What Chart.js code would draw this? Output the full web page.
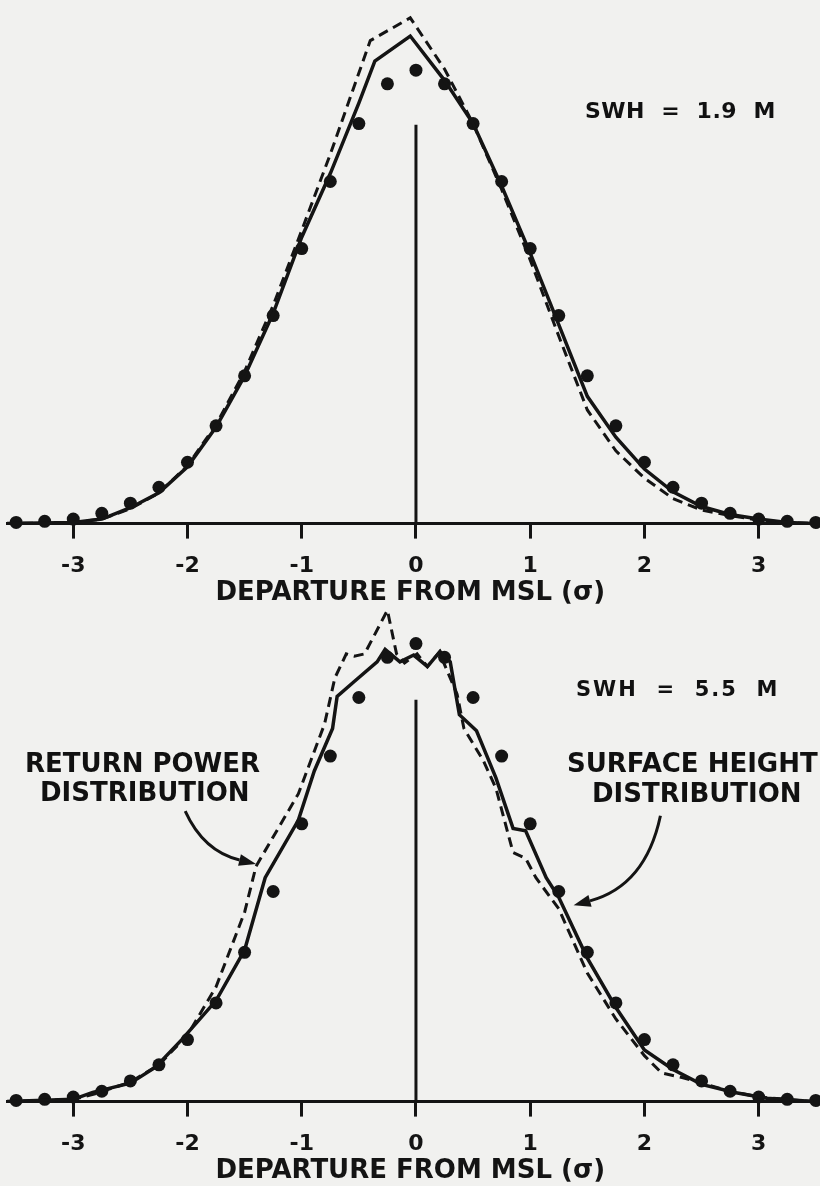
<!DOCTYPE html>
<html lang="en">
<head>
<meta charset="UTF-8">
<title>Return power vs surface height distribution</title>
<script src="https://cdn.jsdelivr.net/npm/chart.js@4.4.0/dist/chart.umd.min.js"></script>
<style>
    body {
        margin: 0;
        background: #f1f1ef;
        width: 820px;
        height: 1186px;
        position: relative;
        overflow: hidden;
        font-family: 'DejaVu Sans', sans-serif;
        font-weight: bold;
        color: #111;
    }
    canvas {
        position: absolute;
        left: 0;
    }
    #top { top: 0; }
    #bottom { top: 590px; }
    .note {
        position: absolute;
        line-height: 1;
        white-space: pre;
    }
</style>
</head>
<body>
<canvas id="top" width="820" height="608"></canvas>
<canvas id="bottom" width="820" height="596"></canvas>

<div class="note" style="left:585px; top:100px; font-size:22px; letter-spacing:0.5px;">SWH  =  1.9  M</div>
<div class="note" style="left:576px; top:679px; font-size:21px; letter-spacing:2px;">SWH  =  5.5  M</div>
<div class="note" style="left:25px; top:750px; font-size:26px;">RETURN POWER</div>
<div class="note" style="left:40px; top:779px; font-size:26px;">DISTRIBUTION</div>
<div class="note" style="left:567px; top:750px; font-size:26px;">SURFACE HEIGHT</div>
<div class="note" style="left:592px; top:780px; font-size:26px;">DISTRIBUTION</div>

<script>
// x positions (sigma) of the plotted points
const xDots = [-3.5, -3.25, -3, -2.75, -2.5, -2.25, -2, -1.75, -1.5, -1.25, -1, -0.75, -0.5, -0.25,
    0, 0.25, 0.5, 0.75, 1, 1.25, 1.5, 1.75, 2, 2.25, 2.5, 2.75, 3, 3.25, 3.5];
const dotsTop = [0.001, 0.002, 0.004, 0.009, 0.018, 0.032, 0.054, 0.086, 0.130, 0.183, 0.242, 0.301, 0.352, 0.387,
    0.399, 0.387, 0.352, 0.301, 0.242, 0.183, 0.130, 0.086, 0.054, 0.032, 0.018, 0.009, 0.004, 0.002, 0.001];
const dotsBottom = [0.001, 0.002, 0.004, 0.009, 0.018, 0.032, 0.054, 0.086, 0.130, 0.183, 0.242, 0.301, 0.352, 0.387,
    0.399, 0.387, 0.352, 0.301, 0.242, 0.183, 0.130, 0.086, 0.054, 0.032, 0.018, 0.009, 0.004, 0.002, 0.001];

// SWH = 1.9 m
const solidTopX = [-3.58, -3, -2.75, -2.5, -2.25, -2, -1.75, -1.5, -1.25, -1, -0.75, -0.5, -0.36, -0.05,
    0.25, 0.5, 0.75, 1, 1.25, 1.5, 1.75, 2, 2.25, 2.5, 2.75, 3, 3.25, 3.48];
const solidTopY = [0, 0.001, 0.004, 0.014, 0.027, 0.050, 0.085, 0.130, 0.185, 0.252, 0.308, 0.370, 0.407, 0.429,
    0.390, 0.352, 0.297, 0.238, 0.175, 0.112, 0.076, 0.048, 0.028, 0.015, 0.008, 0.004, 0.001, 0];
const dashTopX = [-3.58, -3, -2.75, -2.5, -2.25, -2, -1.75, -1.5, -1.25, -1, -0.75, -0.4, -0.05,
    0.25, 0.5, 0.75, 1, 1.25, 1.5, 1.75, 2, 2.25, 2.5, 2.75, 3, 3.25, 3.48];
const dashTopY = [0, 0.001, 0.004, 0.013, 0.027, 0.051, 0.087, 0.134, 0.192, 0.258, 0.325, 0.425, 0.445,
    0.400, 0.352, 0.294, 0.232, 0.165, 0.100, 0.064, 0.040, 0.022, 0.012, 0.007, 0.003, 0.001, 0];

// SWH = 5.5 m
const solidBotX = [-3.58, -3, -2.83, -2.5, -2.28, -2.05, -1.75, -1.5, -1.32, -1.03, -0.89, -0.73, -0.69, -0.54,
    -0.34, -0.27, -0.14, -0.02, 0.10, 0.21, 0.30, 0.38, 0.53, 0.70, 0.85, 0.96, 1.14, 1.25, 1.5, 1.75,
    2, 2.25, 2.5, 2.79, 3.07, 3.48];
const solidBotY = [0, 0.002, 0.008, 0.016, 0.030, 0.054, 0.088, 0.132, 0.195, 0.245, 0.288, 0.325, 0.353, 0.366,
    0.383, 0.394, 0.383, 0.389, 0.379, 0.392, 0.383, 0.337, 0.323, 0.282, 0.238, 0.236, 0.195, 0.178, 0.125, 0.082,
    0.045, 0.028, 0.015, 0.008, 0.003, 0];
const dashBotX = [-3.58, -3, -2.8, -2.5, -2.25, -2, -1.75, -1.5, -1.40, -1.03, -0.80, -0.71, -0.61, -0.54, -0.45,
    -0.25, -0.17, -0.10, 0.01, 0.10, 0.21, 0.24, 0.36, 0.42, 0.59, 0.70, 0.85, 0.96, 1.05, 1.25, 1.5, 1.75,
    2, 2.15, 2.33, 2.47, 2.75, 3, 3.48];
const dashBotY = [0, 0.002, 0.007, 0.017, 0.032, 0.058, 0.100, 0.165, 0.205, 0.268, 0.329, 0.369, 0.390, 0.388, 0.390,
    0.428, 0.390, 0.382, 0.390, 0.379, 0.392, 0.383, 0.355, 0.325, 0.297, 0.273, 0.217, 0.212, 0.195, 0.168, 0.112, 0.072,
    0.040, 0.025, 0.021, 0.017, 0.009, 0.004, 0];

// mean marker (vertical line at 0)
const meanX = [0, 0];
const meanTopY = [0, 0.351];
const meanBotY = [0, 0.350];

const xTicks = [-3, -2, -1, 0, 1, 2, 3];

// label arrows, in data units: start, control, tip
const arrowsBottom = [
    { from: [-2.02, 0.253], ctrl: [-1.86, 0.218], to: [-1.40, 0.207] },
    { from: [2.14, 0.249], ctrl: [2.01, 0.188], to: [1.38, 0.171] }
];

const ink = '#141414';

function pts(xs, ys) {
    return xs.map((x, i) => ({ x: x, y: ys[i] }));
}

const arrowPlugin = {
    id: 'arrows',
    afterDatasetsDraw(chart, args, opts) {
        const list = opts.list || [];
        const xs = chart.scales.x, ys = chart.scales.y;
        const ctx = chart.ctx;
        ctx.save();
        ctx.strokeStyle = ink;
        ctx.fillStyle = ink;
        ctx.lineWidth = 3;
        list.forEach(a => {
            const p0 = [xs.getPixelForValue(a.from[0]), ys.getPixelForValue(a.from[1])];
            const pc = [xs.getPixelForValue(a.ctrl[0]), ys.getPixelForValue(a.ctrl[1])];
            const p1 = [xs.getPixelForValue(a.to[0]), ys.getPixelForValue(a.to[1])];
            const ang = Math.atan2(p1[1] - pc[1], p1[0] - pc[0]);
            const len = 17;
            const base = [p1[0] - len * Math.cos(ang), p1[1] - len * Math.sin(ang)];
            ctx.beginPath();
            ctx.moveTo(p0[0], p0[1]);
            ctx.quadraticCurveTo(pc[0], pc[1], base[0], base[1]);
            ctx.stroke();
            ctx.beginPath();
            ctx.moveTo(p1[0], p1[1]);
            ctx.lineTo(base[0] + 6 * Math.sin(ang), base[1] - 6 * Math.cos(ang));
            ctx.lineTo(base[0] - 6 * Math.sin(ang), base[1] + 6 * Math.cos(ang));
            ctx.closePath();
            ctx.fill();
        });
        ctx.restore();
    }
};

function makeChart(id, dots, solid, dashed, meanY, yMax, padTop, arrows) {
    return new Chart(document.getElementById(id), {
        type: 'scatter',
        data: {
            datasets: [
                {
                    data: pts(meanX, meanY),
                    showLine: true,
                    borderColor: ink,
                    borderWidth: 3,
                    pointRadius: 0
                },
                {
                    data: dashed,
                    showLine: true,
                    borderColor: ink,
                    borderWidth: 3,
                    borderDash: [10, 6],
                    pointRadius: 0
                },
                {
                    data: solid,
                    showLine: true,
                    borderColor: ink,
                    borderWidth: 3.5,
                    pointRadius: 0
                },
                {
                    data: pts(xDots, dots),
                    backgroundColor: ink,
                    borderWidth: 0,
                    pointRadius: 6.5,
                    clip: false
                }
            ]
        },
        options: {
            responsive: false,
            animation: false,
            devicePixelRatio: 1,
            layout: { padding: { top: padTop, left: 7, right: 0, bottom: 0 } },
            plugins: {
                legend: { display: false },
                tooltip: { enabled: false },
                arrows: { list: arrows }
            },
            scales: {
                x: {
                    type: 'linear',
                    min: -3.58,
                    max: 3.48,
                    afterBuildTicks: scale => {
                        scale.ticks = xTicks.map(v => ({ value: v }));
                    },
                    border: { display: true, color: ink, width: 3 },
                    grid: {
                        drawOnChartArea: false,
                        drawTicks: true,
                        tickLength: 15,
                        tickWidth: 3,
                        tickColor: ink
                    },
                    ticks: {
                        color: ink,
                        padding: 14,
                        maxRotation: 0,
                        font: { family: 'DejaVu Sans', weight: 'bold', size: 22 },
                        callback: v => String(v)
                    },
                    title: {
                        display: true,
                        text: 'DEPARTURE FROM MSL (σ)',
                        color: ink,
                        font: { family: 'DejaVu Sans', weight: 'bold', size: 26, lineHeight: 1 },
                        padding: { top: -13, bottom: 2 }
                    }
                },
                y: {
                    display: false,
                    min: 0,
                    max: yMax
                }
            }
        },
        plugins: [arrowPlugin]
    });
}

makeChart('top', dotsTop, pts(solidTopX, solidTopY), pts(dashTopX, dashTopY), meanTopY, 0.455, 3, []);
makeChart('bottom', dotsBottom, pts(solidBotX, solidBotY), pts(dashBotX, dashBotY), meanBotY, 0.44, 5, arrowsBottom);
</script>
</body>
</html>
